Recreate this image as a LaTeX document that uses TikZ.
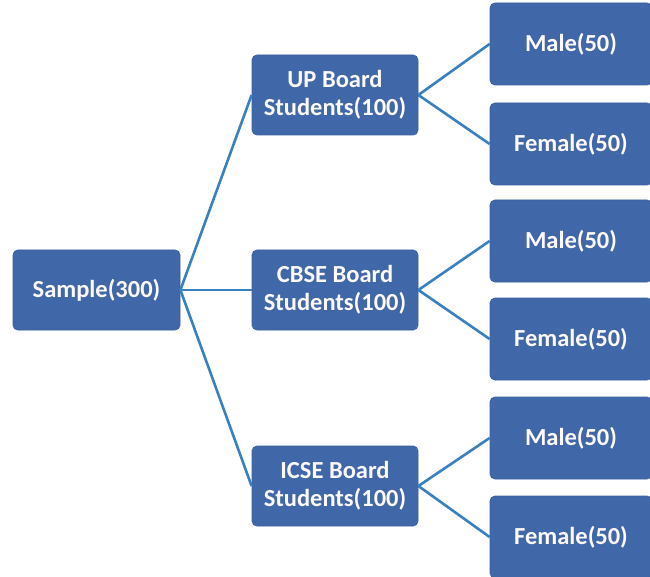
\documentclass[tikz,border=0pt]{standalone}
\usepackage{fontspec}
\setmainfont{Carlito}
\definecolor{boxfill}{RGB}{64,104,168}
\definecolor{boxedge}{RGB}{58,96,160}
\definecolor{linkblue}{RGB}{58,128,192}
\begin{document}
\begin{tikzpicture}[x=1pt,y=-1pt,
  box/.style={draw=boxedge,line width=0.8pt,fill=boxfill,rounded corners=5pt,
    text=white!92!pink,font=\bfseries\fontsize{24.5}{28}\selectfont,align=center,inner sep=0pt},
  rootbox/.style={box,minimum width=167pt,minimum height=80pt},
  midbox/.style={box,minimum width=166pt,minimum height=80pt},
  leafbox/.style={box,minimum width=162pt,minimum height=82pt},
  link/.style={draw=linkblue,line width=2.6pt}]
\useasboundingbox (0,0) rectangle (650,577);
\node[rootbox] (root) at (96.5,290) {Sample(300)};
\node[midbox] (up) at (335,95) {UP Board\\Students(100)};
\node[midbox] (cbse) at (335,290) {CBSE Board\\Students(100)};
\node[midbox] (icse) at (335,486) {ICSE Board\\Students(100)};
\node[leafbox] (upm) at (571,44) {Male(50)};
\node[leafbox] (upf) at (571,144) {Female(50)};
\node[leafbox] (cbm) at (571,241) {Male(50)};
\node[leafbox] (cbf) at (571,339) {Female(50)};
\node[leafbox] (icm) at (571,438) {Male(50)};
\node[leafbox] (icf) at (571,537) {Female(50)};
\draw[link] (root.east) -- (up.west);
\draw[link] (root.east) -- (cbse.west);
\draw[link] (root.east) -- (icse.west);
\draw[link] (up.east) -- (upm.west);
\draw[link] (up.east) -- (upf.west);
\draw[link] (cbse.east) -- (cbm.west);
\draw[link] (cbse.east) -- (cbf.west);
\draw[link] (icse.east) -- (icm.west);
\draw[link] (icse.east) -- (icf.west);
\end{tikzpicture}
\end{document}
